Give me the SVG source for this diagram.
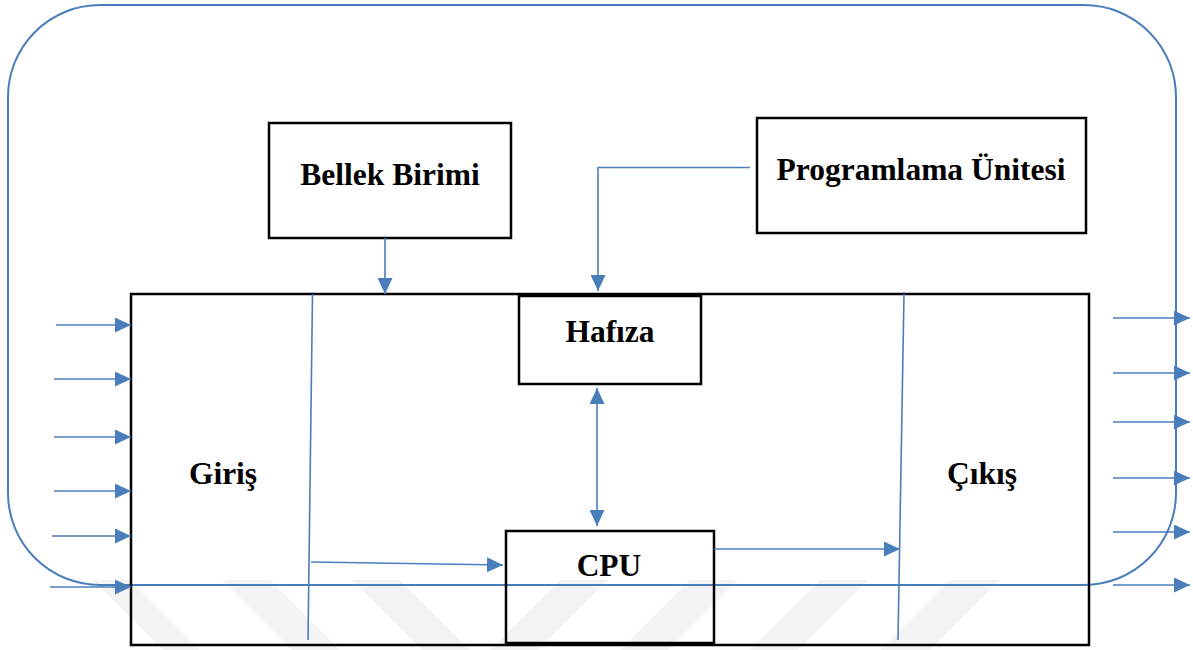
<svg xmlns="http://www.w3.org/2000/svg" width="1193" height="650" viewBox="0 0 1193 650">
<style>
.box{fill:none;stroke:#000;stroke-width:2.5}
.ln{fill:none;stroke:#4a7ebb;stroke-width:1.6}
.lbl{font-family:"Liberation Serif","Times New Roman",serif;font-weight:bold;font-size:31.5px;fill:#000;text-anchor:middle}
.wm{fill:#000;fill-opacity:0.045}
</style>
<defs>
<marker id="ah" markerUnits="userSpaceOnUse" markerWidth="16" markerHeight="15" refX="16" refY="7.5" orient="auto-start-reverse">
<path d="M0,0 L16,7.5 L0,15 z" fill="#4a7ebb"/>
</marker>
</defs>
<rect width="1193" height="650" fill="#fff"/>
<g id="watermark">
<polygon class="wm" points="93,580 130,580 200,650 163,650"/>
<polygon class="wm" points="222,580 270,580 340,650 292,650"/>
<polygon class="wm" points="352,580 400,580 470,650 422,650"/>
<polygon class="wm" points="560,580 608,580 538,650 490,650"/>
<polygon class="wm" points="690,580 738,580 668,650 620,650"/>
<polygon class="wm" points="820,580 868,580 798,650 750,650"/>
<polygon class="wm" points="950,580 1000,580 930,650 880,650"/>
</g>
<g id="outer">
<rect x="8" y="5" width="1168" height="580" rx="92" ry="92" fill="none" stroke="#4a7ebb" stroke-width="2"/>
</g>
<g id="main">
<rect class="box" x="131" y="294" width="958" height="351"/>
<text class="lbl" x="223" y="484">Giriş</text>
<text class="lbl" x="982" y="484">Çıkış</text>
</g>
<g id="bellek">
<rect class="box" x="269" y="123" width="242" height="115"/>
<text class="lbl" x="390" y="185">Bellek Birimi</text>
</g>
<g id="programlama">
<rect class="box" x="757" y="118" width="329" height="115"/>
<text class="lbl" x="921" y="180">Programlama Ünitesi</text>
</g>
<g id="hafiza">
<rect class="box" x="519" y="296" width="182" height="88"/>
<text class="lbl" x="610" y="342">Hafıza</text>
</g>
<g id="cpu">
<rect class="box" x="506" y="531" width="208" height="112"/>
<text class="lbl" x="609" y="576">CPU</text>
</g>
<g id="connectors">
<line class="ln" x1="312.5" y1="294" x2="308" y2="640"/>
<line class="ln" x1="904" y1="294" x2="898" y2="640"/>
<line class="ln" x1="385" y1="238" x2="385" y2="294" marker-end="url(#ah)"/>
<polyline class="ln" points="750,167.5 598,167.5 598,291" marker-end="url(#ah)"/>
<line class="ln" x1="597" y1="388" x2="597" y2="526" marker-start="url(#ah)" marker-end="url(#ah)"/>
<line class="ln" x1="311" y1="562" x2="503" y2="565" marker-end="url(#ah)"/>
<line class="ln" x1="714" y1="549" x2="900" y2="549" marker-end="url(#ah)"/>
<line class="ln" x1="56" y1="325" x2="131" y2="325" marker-end="url(#ah)"/>
<line class="ln" x1="54" y1="379" x2="131" y2="379" marker-end="url(#ah)"/>
<line class="ln" x1="54" y1="437" x2="131" y2="437" marker-end="url(#ah)"/>
<line class="ln" x1="54" y1="491" x2="131" y2="491" marker-end="url(#ah)"/>
<line class="ln" x1="52" y1="536" x2="131" y2="536" marker-end="url(#ah)"/>
<line class="ln" x1="50" y1="587" x2="131" y2="587" marker-end="url(#ah)"/>
<line class="ln" x1="1113" y1="318" x2="1190" y2="318" marker-end="url(#ah)"/>
<line class="ln" x1="1113" y1="373" x2="1190" y2="373" marker-end="url(#ah)"/>
<line class="ln" x1="1113" y1="422" x2="1190" y2="422" marker-end="url(#ah)"/>
<line class="ln" x1="1113" y1="478" x2="1190" y2="478" marker-end="url(#ah)"/>
<line class="ln" x1="1113" y1="532" x2="1190" y2="532" marker-end="url(#ah)"/>
<line class="ln" x1="1113" y1="585" x2="1190" y2="585" marker-end="url(#ah)"/>
</g>
</svg>
